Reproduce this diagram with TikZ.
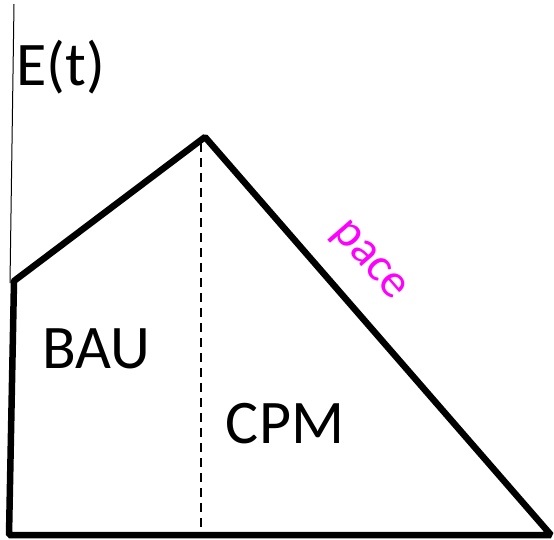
\documentclass[tikz,border=0pt]{standalone}
\usepackage{fontspec}
\setmainfont{Carlito}
\definecolor{pacecol}{RGB}{255,0,255}
\begin{document}
\begin{tikzpicture}[x=1pt,y=-1pt,
  thickline/.style={line width=6.5pt,line join=bevel},
  label/.style={inner sep=0pt,font=\fontsize{62}{62}\selectfont}]
\useasboundingbox (0,0) rectangle (554,539);
\coordinate (axtop) at (14,4);
\coordinate (axbot) at (10,283);
\coordinate (bl) at (9,535);
\coordinate (lt) at (14,281);
\coordinate (pk) at (205,137);
\coordinate (br) at (551,535);
\coordinate (pkb) at (201,535);
\draw[line width=1pt] (axtop) -- (axbot);
\draw[thickline] (bl) -- (lt) -- (pk) -- (br) -- cycle;
\draw[line width=1.3pt,dash pattern=on 9pt off 6pt] (pk) ++(-4,6) -- (pkb);
\node[label,anchor=base] (et) at (61,85) {E(t)};
\node[label,anchor=base] (bau) at (96,368) {BAU};
\node[label,anchor=base] (cpm) at (285,443) {CPM};
\node[inner sep=0pt,font=\fontsize{48}{48}\selectfont,text=pacecol,rotate=-49] (pace) at (368,262) {pace};
\end{tikzpicture}
\end{document}
